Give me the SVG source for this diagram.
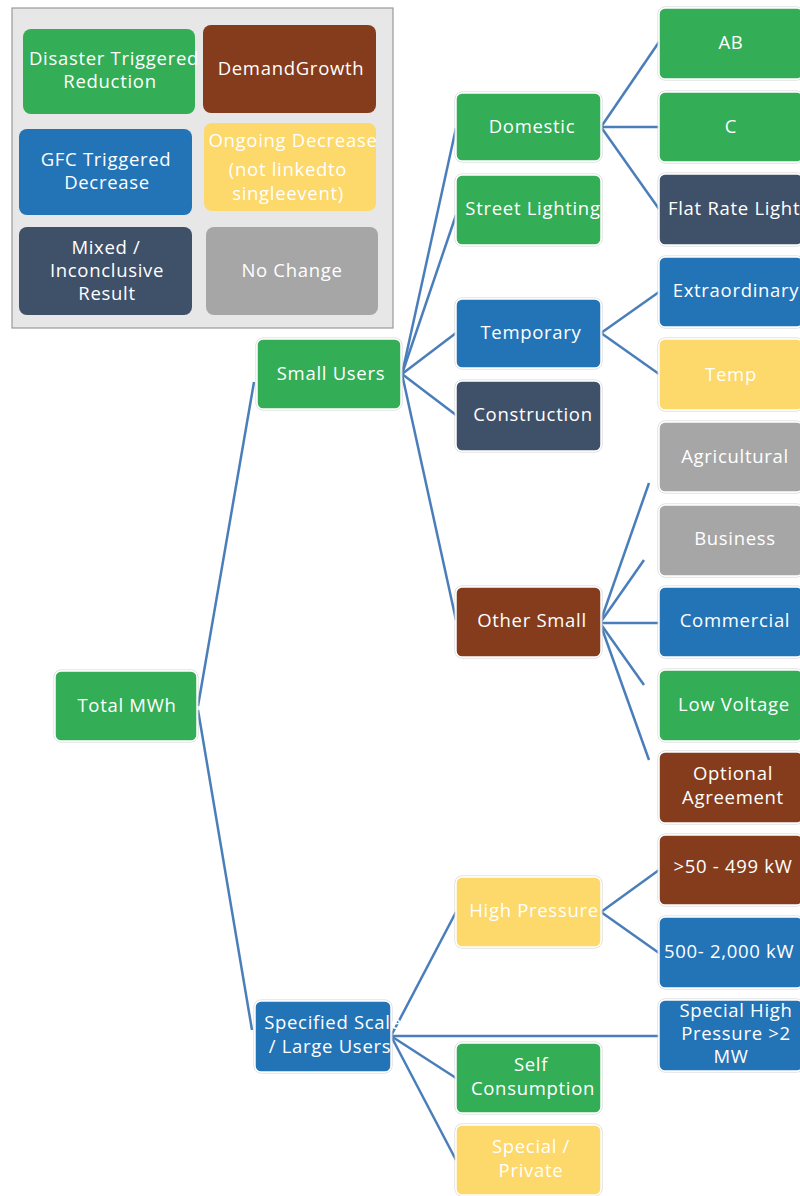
<svg xmlns="http://www.w3.org/2000/svg" width="800" height="1196" viewBox="0 0 800 1196">
<style>
.o{fill:none;stroke:#d4d4d4;stroke-width:1}
.n{stroke:#ffffff;stroke-width:1.5}
.gr{fill:#33ad56}.br{fill:#843c1c}.bl{fill:#2373b7}.ye{fill:#fdd86a}.dk{fill:#3f5069}.gy{fill:#a6a6a6}
text{font-family:"Open Sans","Liberation Sans",sans-serif;font-size:18.5px;fill:#ffffff;text-anchor:middle;letter-spacing:0.7px}
.s{text-anchor:start}
.c line{stroke:#4a7ebb;stroke-width:2.5}
</style>
<rect x="0" y="0" width="800" height="1196" fill="#ffffff"/>
<g id="legend">
<rect x="12" y="8" width="381" height="320" fill="#e7e7e7" stroke="#9a9a9a" stroke-width="1.2"/>
<g id="lg-disaster"><rect class="gr" x="23" y="29" width="172" height="85" rx="8"/><text x="114" y="65">Disaster Triggered</text><text x="110" y="88">Reduction</text></g>
<g id="lg-demand"><rect class="br" x="203" y="25" width="173" height="88" rx="8"/><text x="291" y="75">DemandGrowth</text></g>
<g id="lg-gfc"><rect class="bl" x="19" y="129" width="173" height="86" rx="8"/><text x="106" y="166">GFC Triggered</text><text x="107" y="189">Decrease</text></g>
<g id="lg-ongoing"><rect class="ye" x="204" y="123" width="172" height="88" rx="8"/><text x="293" y="147">Ongoing Decrease</text><text x="288" y="176">(not linkedto</text><text x="288" y="200">singleevent)</text></g>
<g id="lg-mixed"><rect class="dk" x="19" y="227" width="173" height="88" rx="8"/><text x="106" y="254">Mixed /</text><text x="107" y="277">Inconclusive</text><text x="107" y="300">Result</text></g>
<g id="lg-nochange"><rect class="gy" x="206" y="227" width="172" height="88" rx="8"/><text x="292" y="277">No Change</text></g>
</g>
<g class="c" id="connectors">
<line x1="198" y1="706" x2="254" y2="382"/>
<line x1="198" y1="710" x2="252" y2="1030"/>
<line x1="402" y1="374" x2="456" y2="128"/>
<line x1="402" y1="374" x2="456" y2="215"/>
<line x1="402" y1="374" x2="456" y2="333"/>
<line x1="402" y1="374" x2="456" y2="415"/>
<line x1="402" y1="374" x2="456" y2="620"/>
<line x1="601" y1="127" x2="659" y2="42"/>
<line x1="601" y1="127" x2="659" y2="127"/>
<line x1="601" y1="127" x2="659" y2="209"/>
<line x1="601" y1="333" x2="659" y2="292"/>
<line x1="601" y1="333" x2="659" y2="374"/>
<line x1="600" y1="623" x2="649" y2="483"/>
<line x1="600" y1="623" x2="644" y2="560"/>
<line x1="600" y1="623" x2="659" y2="623"/>
<line x1="600" y1="623" x2="644" y2="685"/>
<line x1="600" y1="623" x2="649" y2="760"/>
<line x1="601" y1="912" x2="659" y2="870"/>
<line x1="601" y1="912" x2="659" y2="953"/>
<line x1="391" y1="1036" x2="456" y2="912"/>
<line x1="391" y1="1036" x2="659" y2="1036"/>
<line x1="391" y1="1036" x2="456" y2="1078"/>
<line x1="391" y1="1036" x2="456" y2="1160"/>
</g>
<g id="n-total"><rect class="o" x="54" y="670" width="144" height="72" rx="7"/><rect class="n gr" x="55" y="671" width="142" height="70" rx="6"/><text x="127" y="712">Total MWh</text></g>
<g id="n-small"><rect class="o" x="256" y="338" width="146" height="72" rx="7"/><rect class="n gr" x="257" y="339" width="144" height="70" rx="6"/><text x="331" y="380">Small Users</text></g>
<g id="n-specified"><rect class="o" x="254" y="1000" width="138" height="73" rx="7"/><rect class="n bl" x="255" y="1001" width="136" height="71" rx="6"/><text x="333" y="1029">Specified Scale</text><text x="330" y="1053">/ Large Users</text></g>
<g id="n-domestic"><rect class="o" x="455" y="92" width="147" height="70" rx="7"/><rect class="n gr" x="456" y="93" width="145" height="68" rx="6"/><text x="532" y="133">Domestic</text></g>
<g id="n-street"><rect class="o" x="455" y="174" width="147" height="72" rx="7"/><rect class="n gr" x="456" y="175" width="145" height="70" rx="6"/><text x="533" y="215">Street Lighting</text></g>
<g id="n-temporary"><rect class="o" x="455" y="298" width="147" height="71" rx="7"/><rect class="n bl" x="456" y="299" width="145" height="69" rx="6"/><text x="531" y="339">Temporary</text></g>
<g id="n-construction"><rect class="o" x="455" y="380" width="147" height="72" rx="7"/><rect class="n dk" x="456" y="381" width="145" height="70" rx="6"/><text x="533" y="421">Construction</text></g>
<g id="n-othersmall"><rect class="o" x="455" y="586" width="147" height="72" rx="7"/><rect class="n br" x="456" y="587" width="145" height="70" rx="6"/><text x="532" y="627">Other Small</text></g>
<g id="n-highpressure"><rect class="o" x="455" y="876" width="147" height="72" rx="7"/><rect class="n ye" x="456" y="877" width="145" height="70" rx="6"/><text x="534" y="917">High Pressure</text></g>
<g id="n-self"><rect class="o" x="455" y="1042" width="147" height="72" rx="7"/><rect class="n gr" x="456" y="1043" width="145" height="70" rx="6"/><text x="531" y="1071">Self</text><text x="533" y="1095">Consumption</text></g>
<g id="n-special"><rect class="o" x="455" y="1124" width="147" height="72" rx="7"/><rect class="n ye" x="456" y="1125" width="145" height="70" rx="6"/><text x="531" y="1153">Special /</text><text x="531" y="1177">Private</text></g>
<g id="n-ab"><rect class="o" x="658" y="7" width="146" height="73" rx="7"/><rect class="n gr" x="659" y="8" width="144" height="71" rx="6"/><text x="731" y="49">AB</text></g>
<g id="n-c"><rect class="o" x="658" y="91" width="146" height="72" rx="7"/><rect class="n gr" x="659" y="92" width="144" height="70" rx="6"/><text x="731" y="133">C</text></g>
<g id="n-flat"><rect class="o" x="658" y="173" width="146" height="73" rx="7"/><rect class="n dk" x="659" y="174" width="144" height="71" rx="6"/><text class="s" x="668" y="215">Flat Rate Light</text></g>
<g id="n-extra"><rect class="o" x="658" y="256" width="146" height="72" rx="7"/><rect class="n bl" x="659" y="257" width="144" height="70" rx="6"/><text x="736" y="297">Extraordinary</text></g>
<g id="n-temp"><rect class="o" x="658" y="338" width="146" height="73" rx="7"/><rect class="n ye" x="659" y="339" width="144" height="71" rx="6"/><text x="731" y="381">Temp</text></g>
<g id="n-agri"><rect class="o" x="658" y="421" width="146" height="72" rx="7"/><rect class="n gy" x="659" y="422" width="144" height="70" rx="6"/><text x="735" y="463">Agricultural</text></g>
<g id="n-business"><rect class="o" x="658" y="504" width="146" height="73" rx="7"/><rect class="n gy" x="659" y="505" width="144" height="71" rx="6"/><text x="735" y="545">Business</text></g>
<g id="n-commercial"><rect class="o" x="658" y="586" width="146" height="72" rx="7"/><rect class="n bl" x="659" y="587" width="144" height="70" rx="6"/><text x="735" y="627">Commercial</text></g>
<g id="n-lowvoltage"><rect class="o" x="658" y="669" width="146" height="73" rx="7"/><rect class="n gr" x="659" y="670" width="144" height="71" rx="6"/><text x="734" y="711">Low Voltage</text></g>
<g id="n-optional"><rect class="o" x="658" y="751" width="146" height="73" rx="7"/><rect class="n br" x="659" y="752" width="144" height="71" rx="6"/><text x="733" y="780">Optional</text><text x="733" y="804">Agreement</text></g>
<g id="n-50"><rect class="o" x="658" y="834" width="146" height="72" rx="7"/><rect class="n br" x="659" y="835" width="144" height="70" rx="6"/><text x="733" y="873">&gt;50 - 499 kW</text></g>
<g id="n-500"><rect class="o" x="658" y="916" width="146" height="73" rx="7"/><rect class="n bl" x="659" y="917" width="144" height="71" rx="6"/><text class="s" x="664" y="958">500- 2,000 kW</text></g>
<g id="n-shp"><rect class="o" x="658" y="999" width="146" height="73" rx="7"/><rect class="n bl" x="659" y="1000" width="144" height="71" rx="6"/><text x="736" y="1017">Special High</text><text x="736" y="1040">Pressure &gt;2</text><text x="731" y="1063">MW</text></g>
</svg>
